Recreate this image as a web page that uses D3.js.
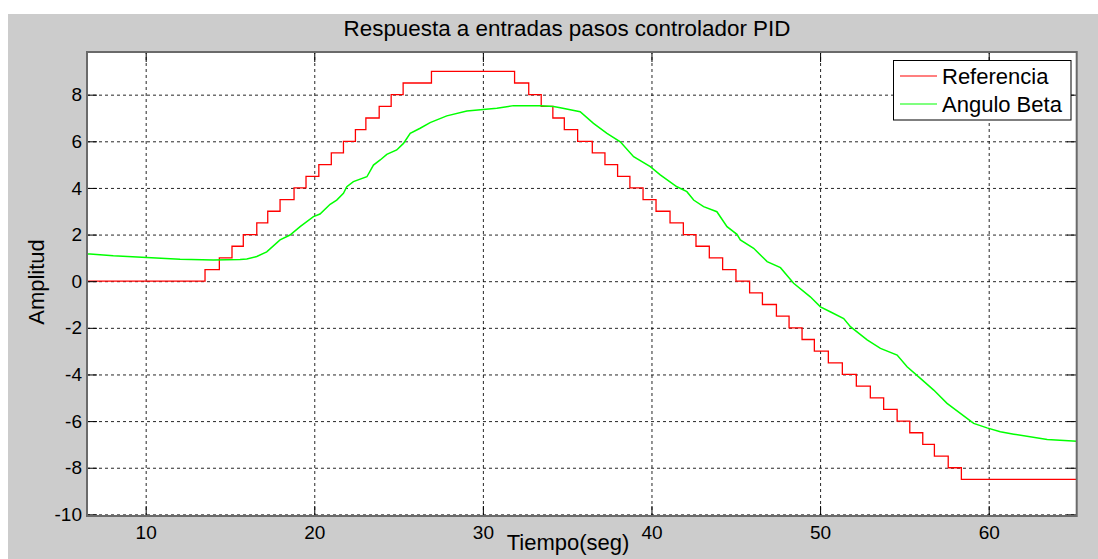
<!DOCTYPE html>
<html>
<head>
<meta charset="utf-8">
<script src="https://cdn.jsdelivr.net/npm/d3@7"></script>
<style>
  html, body { margin: 0; padding: 0; background: #ffffff; }
  svg { display: block; font-family: "Liberation Sans", Arial, sans-serif; }
</style>
</head>
<body>
<svg id="chart" width="1098" height="559"></svg>
<script>
// ---- Data ----
const xTicks = [10, 20, 30, 40, 50, 60];
const yTicks = [-10, -8, -6, -4, -2, 0, 2, 4, 6, 8];

// Referencia (step signal): time at which each level begins, and level
const refT = [6.52, 13.52, 14.37, 15.12, 15.79, 16.59, 17.24, 17.97, 18.8, 19.51, 20.27, 21.01, 21.73, 22.44, 23.06, 23.85, 24.56, 25.27, 26.95,
  31.88, 32.72, 33.46, 34.15, 34.83, 35.62, 36.49, 37.24, 37.99, 38.72, 39.5, 40.27, 41.1, 41.89, 42.64, 43.43, 44.22, 45.01, 45.82, 46.58,
  47.41, 48.16, 48.93, 49.66, 50.49, 51.32, 52.15, 52.98, 53.77, 54.57, 55.32, 56.09, 56.78, 57.6, 58.38, 65.3];
const refV = [0, 0.5, 1, 1.5, 2, 2.5, 3, 3.5, 4, 4.5, 5, 5.5, 6, 6.5, 7, 7.5, 8, 8.5, 9,
  8.5, 8, 7.5, 7, 6.5, 6, 5.5, 5, 4.5, 4, 3.5, 3, 2.5, 2, 1.5, 1, 0.5, 0, -0.5,
  -1, -1.5, -2, -2.5, -3, -3.5, -4, -4.5, -5, -5.5, -6, -6.5, -7, -7.5, -8, -8.5, -8.5];

// Angulo Beta (measured response)
const betaT = [6.52, 6.7, 8.08, 10.06, 12.04, 14.01, 15.6, 16.0, 16.59, 17.18, 17.97, 18.56, 19.16, 19.95, 20.34, 20.94, 21.33, 21.73,
  21.93, 22.32, 23.12, 23.51, 23.91, 24.3, 24.89, 25.29, 25.69, 26.28, 26.87, 27.86, 29.05, 30.83, 31.82, 33.4,
  34.19, 34.59, 35.77, 36.56, 37.36, 38.15, 38.94, 39.93, 40.52, 41.51, 42.1, 42.5, 43.09, 43.88, 44.48, 45.07, 45.27,
  46.06, 46.86, 47.65, 48.43, 49.42, 50.02, 50.6, 51.4, 51.8, 52.79, 53.58, 54.57, 55.16, 55.95, 56.74, 57.53, 58.32,
  59.11, 59.9, 60.69, 61.49, 63.47, 65.25];
const betaV = [1.17, 1.17, 1.09, 1.02, 0.94, 0.91, 0.93, 0.95, 1.06, 1.26, 1.77, 1.98, 2.34, 2.77, 2.88, 3.3, 3.48, 3.77,
  4.05, 4.27, 4.48, 4.98, 5.2, 5.44, 5.63, 5.91, 6.34, 6.56, 6.8, 7.09, 7.3, 7.42, 7.53, 7.53,
  7.49, 7.44, 7.27, 6.77, 6.34, 5.98, 5.34, 4.91, 4.56, 4.05, 3.84, 3.48, 3.2, 2.98, 2.34, 2.01, 1.77,
  1.41, 0.84, 0.58, -0.09, -0.67, -1.1, -1.31, -1.6, -1.95, -2.52, -2.88, -3.17, -3.67, -4.17, -4.67, -5.24, -5.67,
  -6.1, -6.29, -6.46, -6.56, -6.79, -6.86];

const seriesNames = ["Referencia", "Angulo Beta"];
const seriesColors = ["#ff0000", "#00ff00"];

// ---- Layout ----
const svg = d3.select("#chart");
const W = 1098, H = 559;
const plot = { left: 87, top: 52, right: 1076.7, bottom: 516 };

svg.append("rect").attr("x", 8).attr("y", 14).attr("width", W - 8).attr("height", H - 14).attr("fill", "#cccccc");
svg.append("rect").attr("x", plot.left).attr("y", plot.top)
  .attr("width", plot.right - plot.left).attr("height", plot.bottom - plot.top).attr("fill", "#ffffff");

const x = d3.scaleLinear().domain([6.52, 65.22]).range([plot.left, plot.right]);
const y = d3.scaleLinear().domain([-10.07, 9.83]).range([plot.bottom, plot.top]);
const pw = plot.right - plot.left, ph = plot.bottom - plot.top;

// Grid
const gx = svg.append("g").attr("transform", `translate(0,${plot.bottom})`)
  .call(d3.axisBottom(x).tickValues(xTicks).tickSize(-ph).tickFormat(""));
const gy = svg.append("g").attr("transform", `translate(${plot.left},0)`)
  .call(d3.axisLeft(y).tickValues(yTicks).tickSize(-pw).tickFormat(""));
[gx, gy].forEach(g => {
  g.select(".domain").remove();
  g.selectAll(".tick line").attr("stroke", "#000").attr("stroke-width", 1)
    .attr("stroke-dasharray", "3,3").attr("opacity", 0.85);
});

// Lines (clipped)
svg.append("clipPath").attr("id", "clip").append("rect")
  .attr("x", plot.left).attr("y", plot.top).attr("width", pw).attr("height", ph);
const lineG = svg.append("g").attr("clip-path", "url(#clip)");

const refData = refT.map((t, i) => [t, refV[i]]);
const betaData = betaT.map((t, i) => [t, betaV[i]]);

lineG.append("path").datum(refData)
  .attr("fill", "none").attr("stroke", seriesColors[0]).attr("stroke-width", 1.3)
  .attr("d", d3.line().x(d => x(d[0])).y(d => y(d[1])).curve(d3.curveStepAfter));
lineG.append("path").datum(betaData)
  .attr("fill", "none").attr("stroke", seriesColors[1]).attr("stroke-width", 1.5)
  .attr("d", d3.line().x(d => x(d[0])).y(d => y(d[1])));

// Axes: tick marks on all four sides (inside), labels bottom/left
const tickLen = 10;
const axB = svg.append("g").attr("transform", `translate(0,${plot.bottom})`)
  .call(d3.axisBottom(x).tickValues(xTicks).tickSizeInner(-tickLen).tickSizeOuter(0).tickPadding(14).tickFormat(d => String(d)));
const axT = svg.append("g").attr("transform", `translate(0,${plot.top})`)
  .call(d3.axisTop(x).tickValues(xTicks).tickSizeInner(-tickLen).tickSizeOuter(0).tickFormat(""));
const axL = svg.append("g").attr("transform", `translate(${plot.left},0)`)
  .call(d3.axisLeft(y).tickValues(yTicks).tickSizeInner(-tickLen).tickSizeOuter(0).tickPadding(5).tickFormat(d => String(d)));
const axR = svg.append("g").attr("transform", `translate(${plot.right},0)`)
  .call(d3.axisRight(y).tickValues(yTicks).tickSizeInner(-tickLen).tickSizeOuter(0).tickFormat(""));
[axB, axT, axL, axR].forEach(g => {
  g.select(".domain").remove();
  g.selectAll(".tick line").attr("stroke", "#000").attr("stroke-width", 1);
  g.selectAll(".tick text").attr("fill", "#000").style("font-size", "19px")
    .style("font-family", "'Liberation Sans', Arial, sans-serif");
});
axB.selectAll(".tick text").attr("dy", "0.71em").attr("y", 10);
axL.selectAll(".tick text").attr("x", -5);

// Box
svg.append("rect").attr("x", plot.left).attr("y", plot.top).attr("width", pw).attr("height", ph)
  .attr("fill", "none").attr("stroke", "#6a6a6a").attr("stroke-width", 2);

// Title and labels
svg.append("text").attr("x", 567).attr("y", 36).attr("text-anchor", "middle")
  .style("font-size", "22.4px").attr("fill", "#000").text("Respuesta a entradas pasos controlador PID");
svg.append("text").attr("x", 568).attr("y", 550).attr("text-anchor", "middle")
  .style("font-size", "22px").attr("fill", "#000").text("Tiempo(seg)");
svg.append("text").attr("transform", "translate(44,282) rotate(-90)").attr("text-anchor", "middle")
  .style("font-size", "22px").attr("fill", "#000").text("Amplitud");

// Legend
const leg = svg.append("g");
leg.append("rect").attr("x", 893.5).attr("y", 60.5).attr("width", 177.5).attr("height", 59.5)
  .attr("fill", "#ffffff").attr("stroke", "#000").attr("stroke-width", 1);
seriesNames.forEach((name, i) => {
  const cy = 76 + i * 28;
  leg.append("line").attr("x1", 900).attr("x2", 937).attr("y1", cy).attr("y2", cy)
    .attr("stroke", seriesColors[i]).attr("stroke-width", 1.2);
  leg.append("text").attr("x", 942).attr("y", cy + 7.5).style("font-size", "22px")
    .attr("fill", "#000").text(name);
});
</script>
</body>
</html>
